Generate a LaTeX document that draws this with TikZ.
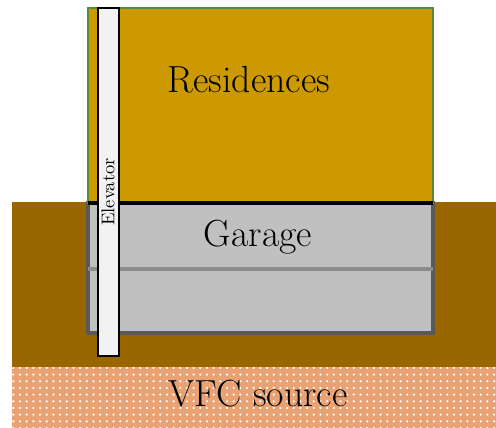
\documentclass[tikz,border=0pt]{standalone}
\usepackage{tikz}
\usetikzlibrary{patterns.meta}
\definecolor{groundcol}{HTML}{996600}
\definecolor{sourcecol}{HTML}{E8A274}
\definecolor{rescol}{HTML}{CC9900}
\definecolor{resedge}{HTML}{5A8A38}
\definecolor{garagecol}{HTML}{C0C0C0}
\definecolor{garageedge}{HTML}{595959}
\definecolor{floorcol}{HTML}{8C8C8C}
\definecolor{elevcol}{HTML}{F2F2F2}

\begin{document}
\begin{tikzpicture}[
  x=0.02cm, y=-0.02cm,
  block/.style={
    draw, anchor=north west, inner sep=0pt, outer sep=0pt
  },
  label/.style={font=\fontsize{21.5}{25}\selectfont, text=black},
]

% ---------------------------------------------------------------
% Geometry in pixels of the 496x428 frame, y grows downwards
% ---------------------------------------------------------------
\useasboundingbox (0,0) rectangle (496,428);

% ===== Soil and source layer =====
\node[block, draw=none, fill=groundcol, minimum width=9.68cm, minimum height=3.3cm]
  (ground) at (12,202) {};
\node[block, draw=none, fill=sourcecol, minimum width=9.68cm, minimum height=1.22cm,
      postaction={pattern={Dots[distance=3.8pt, radius=0.7pt]}, pattern color=white}]
  (source) at (12,367) {};

% ===== Building =====
\node[block, draw=garageedge, line width=1.9pt, fill=garagecol,
      minimum width=6.9cm, minimum height=2.6cm]
  (garage) at (88,203) {};
\node[block, draw=resedge, line width=0.9pt, fill=rescol,
      minimum width=6.9cm, minimum height=3.9cm]
  (res) at (88,8) {};

% floor slabs
\draw[line width=2.6pt, black] (res.south west) -- (res.south east);
\draw[line width=1.8pt, floorcol] (garage.west |- 0,269) -- (garage.east |- 0,269);

% ===== Elevator shaft =====
\node[block, draw=black, line width=1.2pt, fill=elevcol,
      minimum width=0.42cm, minimum height=6.96cm]
  (elev) at (98,8) {};

% ===== Labels =====
\node[label] (reslabel) at (249,80) {Residences};
\node[label] (garlabel) at (258,237) {Garage};
\node[label] (srclabel) at (258,394) {VFC source};
\node[font=\fontsize{10.5}{12}\selectfont, rotate=90] (elevlabel) at (108,192) {Elevator};

\end{tikzpicture}
\end{document}
